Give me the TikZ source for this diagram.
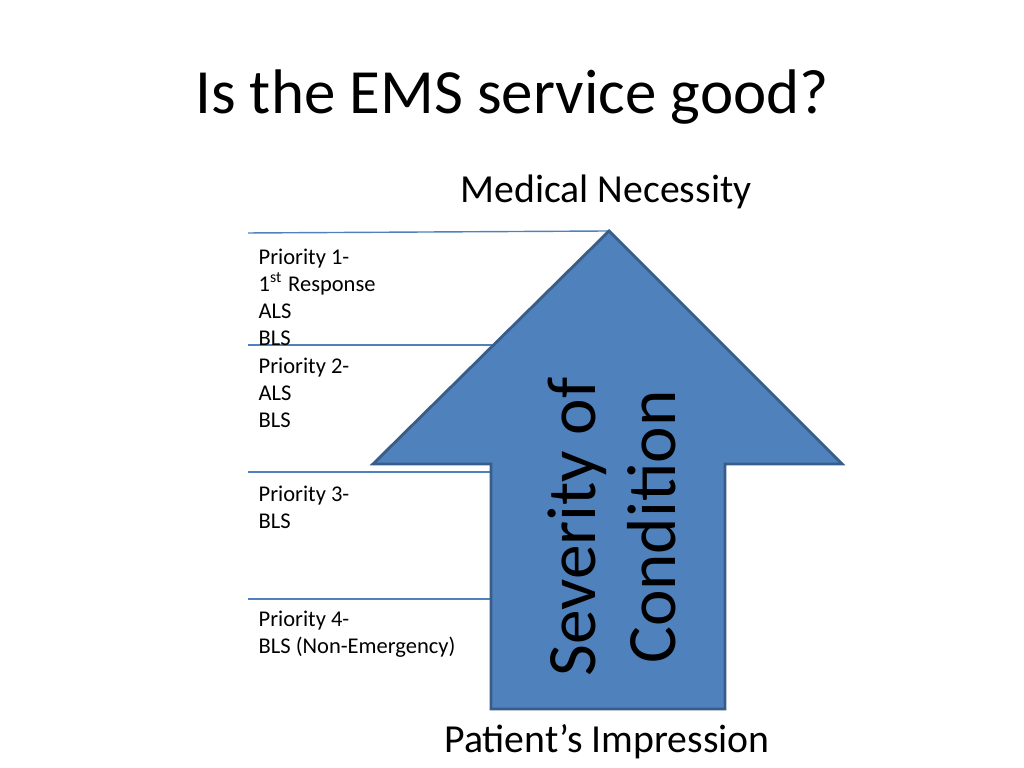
\documentclass[tikz,border=0pt]{standalone}
\usepackage{fontspec}
\setmainfont{Carlito}
\definecolor{arrowblue}{HTML}{4F81BD}
\definecolor{edgeblue}{HTML}{385D8A}
\tikzstyle{label}=[anchor=north west, align=left, inner sep=0pt, font=\fontsize{6.4pt}{7.7pt}\selectfont]
\tikzstyle{level}=[draw=arrowblue, line width=0.4pt]
\begin{document}
\begin{tikzpicture}[x=0.01cm, y=-0.01cm]
		   \useasboundingbox (0,0) rectangle (1024,768);
		   \begin{scope}
			   \node (title) at (512,97) {\fontsize{17.9pt}{20pt}\selectfont Is the EMS service good?};
			   \node (top) at (606,192) {\fontsize{11.3pt}{13pt}\selectfont Medical Necessity};
			   \node (bottom) at (607,742) {\fontsize{11.3pt}{13pt}\selectfont Patient’s Impression};
		   \end{scope}
		   \begin{scope}
			   \coordinate (tip) at (609,231);
			   \coordinate (hl) at (373,464);
			   \coordinate (hr) at (842,464);
			   \coordinate (sl) at (491,464);
			   \coordinate (sr) at (725,464);
			   \coordinate (bl) at (491,709);
			   \coordinate (br) at (725,709);
			   \coordinate (l1) at (248,233);
			   \coordinate (l2) at (248,345);
			   \coordinate (e2) at (495,345);
			   \coordinate (l3) at (248,472);
			   \coordinate (e3) at (491,472);
			   \coordinate (l4) at (248,599);
			   \coordinate (e4) at (491,599);
		   \end{scope}
		   \begin{scope}
			   \draw [level] (l1) -- (tip);
			   \draw [level] (l2) -- (e2);
			   \draw [level] (l3) -- (e3);
			   \draw [level] (l4) -- (e4);
			   \fill [arrowblue, draw=edgeblue, line width=0.8pt] (tip) -- (hr) -- (sr) -- (br) -- (bl) -- (sl) -- (hl) -- cycle;
		   \end{scope}
		   \begin{scope}
			   \node [label] (p1) at (258,248) {Priority 1-\\1\textsuperscript{st} Response\\ALS\\BLS};
			   \node [label] (p2) at (258,357) {Priority 2-\\ALS\\BLS};
			   \node [label] (p3) at (258,485) {Priority 3-\\BLS};
			   \node [label] (p4) at (258,610) {Priority 4-\\BLS (Non-Emergency)};
			   \node [rotate=90, align=center, font=\fontsize{19.7pt}{22.8pt}\selectfont] (sev) at (612,527) {Severity of\\Condition};
		   \end{scope}
\end{tikzpicture}
\end{document}
